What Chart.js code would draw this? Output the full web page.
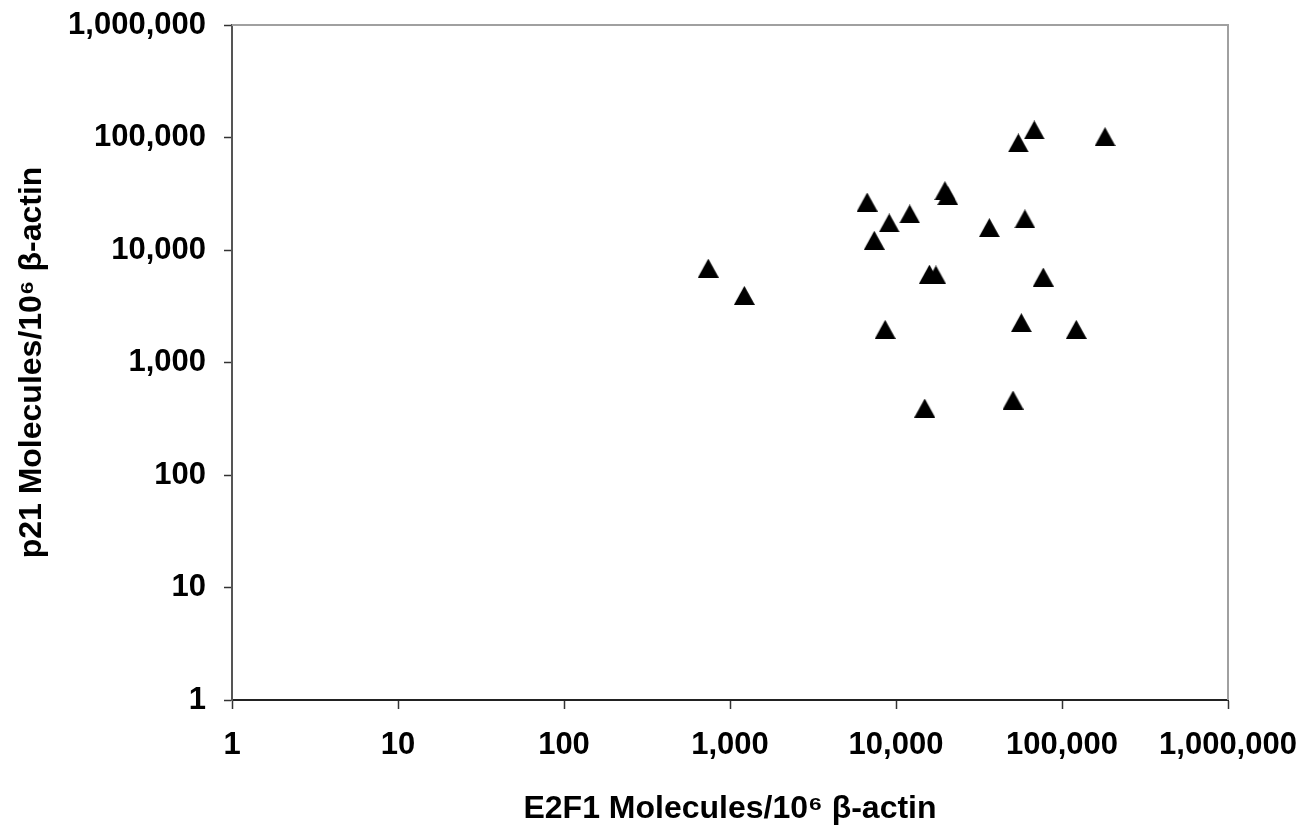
<!DOCTYPE html>
<html>
<head>
<meta charset="utf-8">
<script src="https://cdn.jsdelivr.net/npm/chart.js@4"></script>
<style>
  html, body { margin: 0; padding: 0; background: #ffffff; }
  #wrap { width: 1312px; height: 832px; }
</style>
</head>
<body>
<div id="wrap"><canvas id="chart" width="1312" height="832"></canvas></div>
<script>
const e2f1 = [740, 1220, 6700, 9100, 12100, 7400, 19700, 20500, 36500, 59800, 54600, 68100, 181600, 15900, 17400, 77100, 8600, 56900, 121900, 14900, 50700];
const p21 = [6900, 3950, 26700, 17400, 20900, 12200, 33700, 30400, 15800, 18900, 89400, 116600, 101700, 6100, 6000, 5750, 1970, 2260, 1970, 394, 464];
const tickValues = [1, 10, 100, 1000, 10000, 100000, 1000000];
const xTitle = "E2F1 Molecules/10\u2076 \u03B2-actin";
const yTitle = "p21 Molecules/10\u2076 \u03B2-actin";

const points = e2f1.map((x, i) => ({ x: x, y: p21[i] }));

// Excel-style filled triangle marker, centred on the point
const marker = document.createElement("canvas");
marker.width = 21;
marker.height = 19;
const mctx = marker.getContext("2d");
mctx.fillStyle = "#000000";
mctx.beginPath();
mctx.moveTo(0, 19);
mctx.lineTo(10.5, 0);
mctx.lineTo(21, 19);
mctx.closePath();
mctx.fill();

const frame = {
  id: "frame",
  beforeDatasetsDraw(chart) {
    const { ctx, chartArea } = chart;
    ctx.save();
    ctx.strokeStyle = "#a0a0a0";
    ctx.lineWidth = 2;
    ctx.beginPath();
    ctx.moveTo(chartArea.left, chartArea.top);
    ctx.lineTo(chartArea.right, chartArea.top);
    ctx.lineTo(chartArea.right, chartArea.bottom);
    ctx.stroke();
    ctx.restore();
  },
};

const tickFont = { family: "'Liberation Sans', Arial, sans-serif", size: 31, weight: "bold" };
const titleFont = { family: "'Liberation Sans', Arial, sans-serif", size: 32, weight: "bold" };
const onlyDecades = (scale) => {
  scale.ticks = tickValues.map((v) => ({ value: v }));
};
const fmt = (v) => Number(v).toLocaleString("en-US");

new Chart(document.getElementById("chart"), {
  type: "scatter",
  data: {
    datasets: [
      {
        data: points,
        pointStyle: marker,
        pointRadius: 10,
        pointHoverRadius: 10,
      },
    ],
  },
  options: {
    responsive: false,
    animation: false,
    layout: { padding: { left: 0, top: 25, right: 84, bottom: 0 } },
    plugins: {
      legend: { display: false },
      tooltip: { enabled: false },
    },
    scales: {
      x: {
        type: "logarithmic",
        min: 1,
        max: 1000000,
        afterBuildTicks: onlyDecades,
        afterFit: (scale) => {
          scale.height = 132;
          scale.paddingLeft = 0;
          scale.paddingRight = 0;
        },
        grid: { drawOnChartArea: false, drawTicks: true, tickLength: 9, tickColor: "#333333", tickWidth: 1.5 },
        border: { display: true, color: "#222222", width: 2 },
        ticks: {
          autoSkip: false,
          maxRotation: 0,
          padding: 18,
          color: "#000000",
          font: tickFont,
          callback: fmt,
        },
        title: {
          display: true,
          text: xTitle,
          color: "#000000",
          font: titleFont,
          padding: { top: 0, bottom: 4 },
        },
      },
      y: {
        type: "logarithmic",
        min: 1,
        max: 1000000,
        afterBuildTicks: onlyDecades,
        afterFit: (scale) => {
          scale.width = 232;
          scale.paddingTop = 0;
          scale.paddingBottom = 0;
        },
        grid: { drawOnChartArea: false, drawTicks: true, tickLength: 8, tickColor: "#333333", tickWidth: 1.5 },
        border: { display: true, color: "#555555", width: 2 },
        ticks: {
          autoSkip: false,
          padding: 18,
          color: "#000000",
          font: tickFont,
          callback: fmt,
        },
        title: {
          display: true,
          text: yTitle,
          color: "#000000",
          font: titleFont,
          padding: { top: 13, bottom: 0 },
        },
      },
    },
  },
  plugins: [frame],
});
</script>
</body>
</html>
